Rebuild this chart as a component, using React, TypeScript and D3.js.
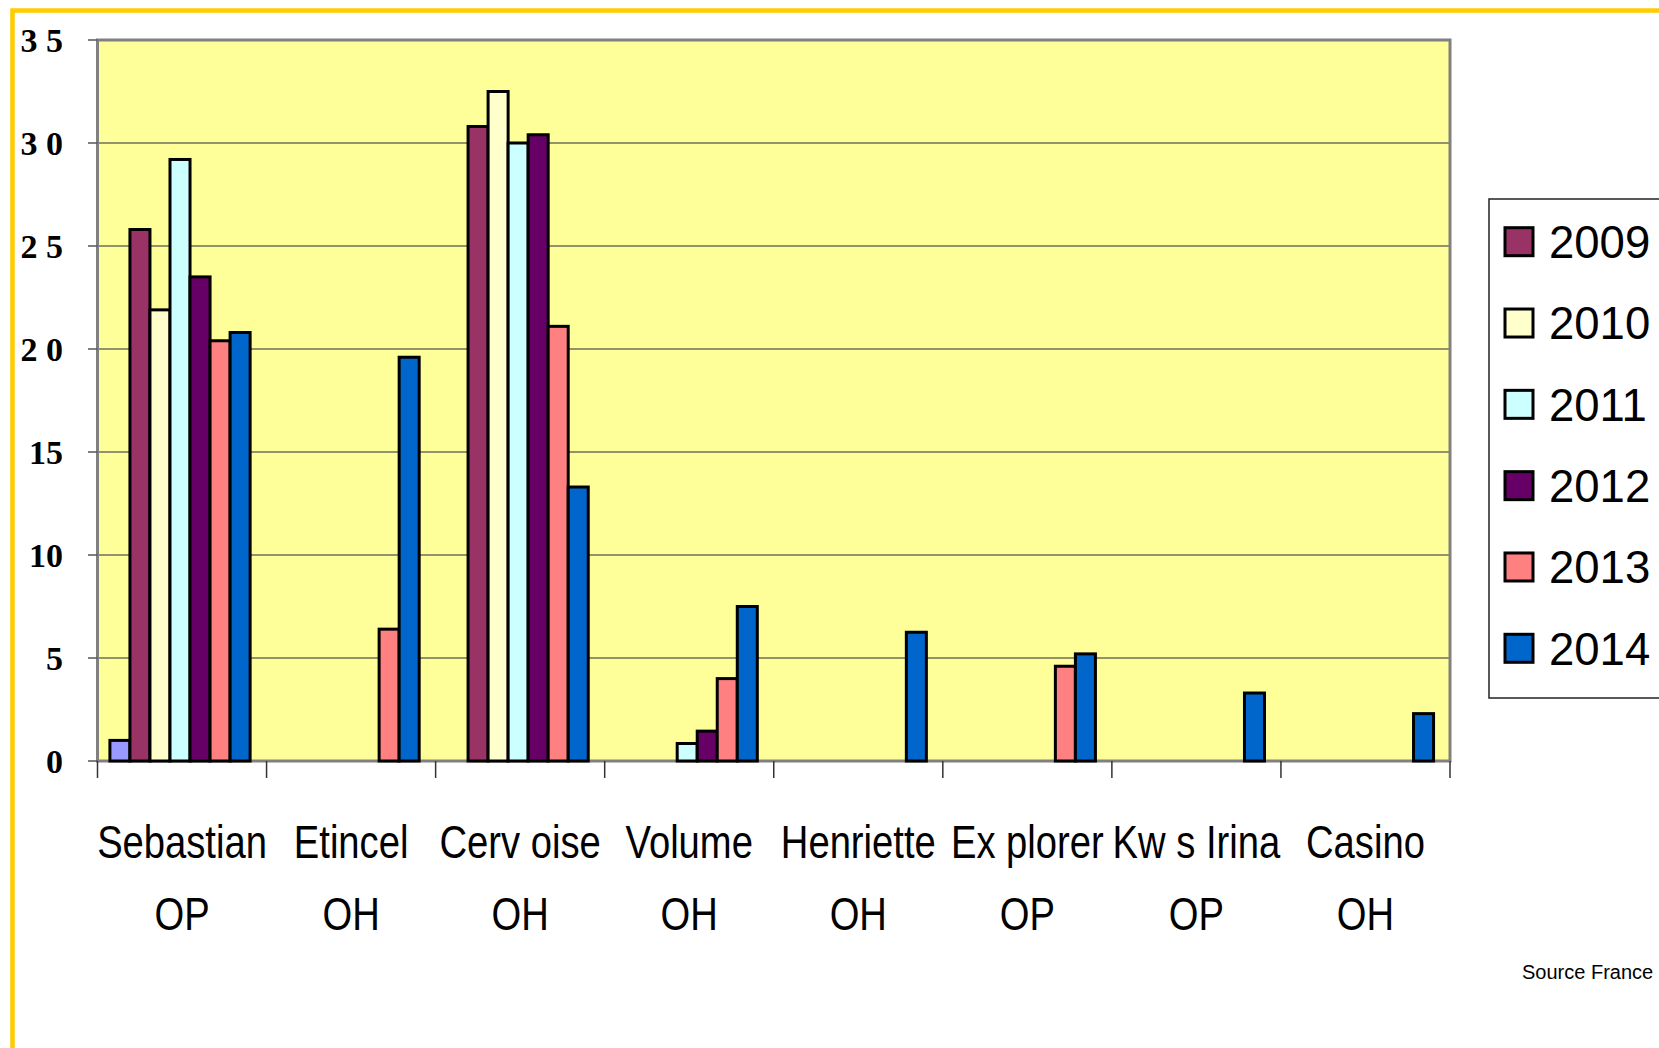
import React from 'react';
import * as d3 from 'd3';

// categories (two-line labels)
const varieties = ['Sebastian', 'Etincel', 'Cerv oise', 'Volume', 'Henriette', 'Ex plorer', 'Kw s Irina', 'Casino'];
const types = ['OP', 'OH', 'OH', 'OH', 'OH', 'OP', 'OP', 'OH'];

// series, in bar order
const seriesKeys = ['autre', '2009', '2010', '2011', '2012', '2013', '2014'];
const valsAutre = [1.0, 0, 0, 0, 0, 0, 0, 0];
const vals2009 = [25.8, 0, 30.8, 0, 0, 0, 0, 0];
const vals2010 = [21.9, 0, 32.5, 0, 0, 0, 0, 0];
const vals2011 = [29.2, 0, 30.0, 0.85, 0, 0, 0, 0];
const vals2012 = [23.5, 0, 30.4, 1.45, 0, 0, 0, 0];
const vals2013 = [20.4, 6.4, 21.1, 4.0, 0, 4.6, 0, 0];
const vals2014 = [20.8, 19.6, 13.3, 7.5, 6.25, 5.2, 3.3, 2.3];
const seriesValues = [valsAutre, vals2009, vals2010, vals2011, vals2012, vals2013, vals2014];

const legendKeys = ['2009', '2010', '2011', '2012', '2013', '2014'];
const yTicks = [0, 5, 10, 15, 20, 25, 30, 35];
const yTickLabels = ['0', '5', '10', '15', '2 0', '2 5', '3 0', '3 5'];

const colors = {
  autre: '#9999FF',
  '2009': '#993366',
  '2010': '#FFFFCC',
  '2011': '#CCFFFF',
  '2012': '#660066',
  '2013': '#FF8080',
  '2014': '#0066CC'
};

export default function App() {
  const width = 1659, height = 1048;
  const left = 97.5, right = 1450, top = 40, bottom = 761;

  const y = d3.scaleLinear().domain([0, 35]).range([bottom, top]);
  const x0 = d3.scaleBand().domain(varieties).range([left, right]).padding(0);
  const x1 = d3.scaleBand().domain(seriesKeys).range([0, x0.bandwidth()])
    .paddingInner(0).paddingOuter(0.72).align(0.43);

  const sans = "'Liberation Sans', Arial, sans-serif";
  const serif = "'Liberation Serif', 'Times New Roman', serif";

  const legendY = d3.scalePoint().domain(legendKeys).range([241.7, 648.3]);

  return (
    <svg width={width} height={height} style={{position: 'absolute', left: 0, top: 0, background: '#fff'}}>
      {/* plot area */}
      <rect x={left} y={top} width={right - left} height={bottom - top} fill="#FFFF99"/>
      {yTicks.filter(t => t > 0 && t < 35).map(t =>
        <line key={'g' + t} x1={left} x2={right} y1={y(t)} y2={y(t)} stroke="#6e6e5e" strokeWidth={1.5}/>
      )}
      <rect x={left} y={top} width={right - left} height={bottom - top} fill="none" stroke="#808080" strokeWidth={3}/>

      {/* y axis ticks + labels */}
      {yTicks.map((t, i) =>
        <g key={'y' + t}>
          <line x1={88} x2={left} y1={y(t)} y2={y(t)} stroke="#555" strokeWidth={1.5}/>
          <text x={63} y={y(t)} dy="0.35em" textAnchor="end" fontFamily={serif}
                fontWeight="bold" fontSize={34} fill="#000">{yTickLabels[i]}</text>
        </g>
      )}

      {/* x ticks */}
      {[...varieties.map(v => x0(v) as number), right].map((px, i) =>
        <line key={'xt' + i} x1={px} x2={px} y1={bottom} y2={bottom + 17} stroke="#333" strokeWidth={1.5}/>
      )}

      {/* bars */}
      {varieties.map((v, ci) =>
        <g key={v} transform={'translate(' + x0(v) + ',0)'}>
          {seriesKeys.map((k, si) => {
            const val = seriesValues[si][ci];
            if (!val) return null;
            return <rect key={k} x={x1(k)} y={y(val)} width={x1.bandwidth()} height={bottom - y(val)}
                         fill={colors[k]} stroke="#000" strokeWidth={3}/>;
          })}
        </g>
      )}

      {/* category labels */}
      {varieties.map((v, i) => {
        const cx = (x0(v) as number) + x0.bandwidth() / 2;
        return (
          <g key={'lbl' + v} fontFamily={sans} fontSize={46} fill="#000" textAnchor="middle">
            <text transform={'translate(' + cx + ',858) scale(0.83,1)'}>{v}</text>
            <text transform={'translate(' + cx + ',930) scale(0.83,1)'}>{types[i]}</text>
          </g>
        );
      })}

      {/* legend */}
      <rect x={1489} y={199} width={260} height={499} fill="#fff" stroke="#222" strokeWidth={1.5}/>
      {legendKeys.map(k =>
        <g key={'lg' + k}>
          <rect x={1505} y={legendY(k) - 14} width={28} height={28} fill={colors[k]} stroke="#000" strokeWidth={3}/>
          <text x={1549} y={legendY(k)} dy="0.36em" fontFamily={sans} fontSize={45.5} fill="#000">{k}</text>
        </g>
      )}

      <text x={1522} y={979} fontFamily={sans} fontSize={20} fill="#000">Source France</text>

      {/* outer frame */}
      <rect x={12.5} y={10.5} width={1800} height={1200} fill="none" stroke="#FFCC00" strokeWidth={4.5}/>
    </svg>
  );
}
